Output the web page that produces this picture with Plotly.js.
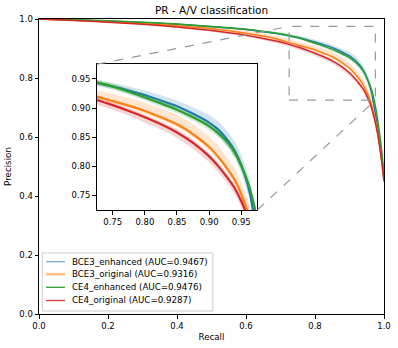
<!DOCTYPE html>
<html>
<head>
<meta charset="utf-8">
<script src="https://cdn.plot.ly/plotly-3.0.1.min.js"></script>
<style>
  html, body { margin: 0; padding: 0; background: #fff; }
  #chart { width: 398px; height: 348px; }
</style>
</head>
<body>
<div id="chart"></div>
<script>
// recall points shared by all curves
const recall = [0, 0.1, 0.2, 0.3, 0.4, 0.5, 0.6, 0.65, 0.7, 0.725, 0.75, 0.775, 0.8, 0.825, 0.85,
  0.875, 0.9, 0.915, 0.93, 0.94, 0.95, 0.96, 0.965, 0.97, 0.975, 0.98, 0.985, 0.99, 0.995, 1.0];

// mean precision per model
const bce3Enhanced = [1.0, 0.997, 0.993, 0.988, 0.982, 0.974, 0.964, 0.957, 0.949, 0.943, 0.937, 0.930, 0.922, 0.913, 0.903,
  0.890, 0.875, 0.862, 0.843, 0.826, 0.802, 0.768, 0.745, 0.712, 0.680, 0.645, 0.610, 0.575, 0.525, 0.455];
const bce3Original = [1.0, 0.996, 0.991, 0.985, 0.977, 0.967, 0.952, 0.942, 0.929, 0.920, 0.912, 0.904, 0.895, 0.884, 0.872,
  0.855, 0.833, 0.815, 0.793, 0.776, 0.752, 0.722, 0.703, 0.680, 0.655, 0.625, 0.590, 0.550, 0.505, 0.450];
const ce4Enhanced = [1.0, 0.998, 0.994, 0.989, 0.983, 0.975, 0.965, 0.958, 0.950, 0.944, 0.937, 0.928, 0.918, 0.908, 0.897,
  0.884, 0.869, 0.856, 0.839, 0.823, 0.801, 0.773, 0.755, 0.733, 0.705, 0.670, 0.630, 0.585, 0.530, 0.455];
const ce4Original = [1.0, 0.995, 0.989, 0.982, 0.973, 0.961, 0.945, 0.934, 0.922, 0.914, 0.905, 0.895, 0.884, 0.872, 0.858,
  0.840, 0.817, 0.799, 0.778, 0.762, 0.740, 0.712, 0.694, 0.672, 0.648, 0.620, 0.585, 0.545, 0.500, 0.450];

// spread of the shaded band above / below each mean curve
const bce3EnhancedUp = [0, .001, .001, .002, .002, .003, .004, .004, .005, .005, .006, .007, .008, .009, .010,
  .011, .013, .014, .015, .016, .017, .018, .018, .018, .018, .017, .016, .015, .012, .010];
const bce3EnhancedDown = [0, .001, .001, .002, .002, .003, .003, .004, .004, .005, .005, .006, .007, .007, .008,
  .009, .010, .011, .012, .012, .013, .014, .014, .014, .014, .013, .012, .011, .010, .008];
const bce3OriginalUp = [0, .002, .003, .004, .005, .006, .008, .009, .010, .011, .012, .013, .014, .015, .016,
  .017, .018, .019, .019, .020, .020, .020, .020, .019, .018, .017, .016, .015, .012, .010];
const bce3OriginalDown = [0, .001, .001, .002, .002, .003, .003, .003, .004, .004, .004, .004, .005, .005, .005,
  .005, .005, .005, .006, .006, .006, .006, .006, .006, .006, .006, .005, .005, .005, .004];
const ce4EnhancedUp = [0, .001, .001, .001, .002, .002, .003, .003, .004, .005, .005, .005, .005, .006, .006,
  .006, .007, .007, .007, .008, .008, .008, .008, .008, .008, .008, .007, .007, .006, .005];
const ce4EnhancedDown = ce4EnhancedUp;
const ce4OriginalUp = [0, .001, .001, .002, .002, .003, .003, .004, .004, .005, .005, .005, .005, .005, .006,
  .006, .006, .006, .006, .006, .006, .006, .006, .006, .006, .006, .006, .005, .005, .004];
const ce4OriginalDown = [0, .001, .002, .002, .003, .004, .005, .006, .007, .008, .008, .008, .009, .009, .009,
  .010, .010, .010, .010, .010, .010, .010, .010, .010, .010, .009, .009, .008, .007, .006];

const names = ['BCE3_enhanced (AUC=0.9467)', 'BCE3_original (AUC=0.9316)',
  'CE4_enhanced (AUC=0.9476)', 'CE4_original (AUC=0.9287)'];

const series = [
  {name: names[0], y: bce3Enhanced, up: bce3EnhancedUp, down: bce3EnhancedDown, color: '31,119,180',
    key: {alpha: 0.6, width: 1.3}},
  {name: names[1], y: bce3Original, up: bce3OriginalUp, down: bce3OriginalDown, color: '255,127,14',
    key: {alpha: 0.5, width: 2.6}},
  {name: names[2], y: ce4Enhanced, up: ce4EnhancedUp, down: ce4EnhancedDown, color: '44,160,44',
    key: {alpha: 1, width: 1.3}},
  {name: names[3], y: ce4Original, up: ce4OriginalUp, down: ce4OriginalDown, color: '214,39,40',
    key: {alpha: 0.9, width: 1.3}}
];

// inset position (paper coords) and zoomed window
const insetX = [0.167, 0.633];
const insetY = [0.3525, 0.8465];
const zoomRange = [0.725, 0.975];

let traces = [];
[['x', 'y', 1.5], ['x2', 'y2', 2.2]].forEach(([xa, ya, w]) => {
  series.forEach(s => {
    let hi = s.y.map((v, i) => v + s.up[i]);
    let lo = s.y.map((v, i) => v - s.down[i]);
    traces.push({
      x: recall.concat(recall.slice().reverse()),
      y: hi.concat(lo.slice().reverse()),
      xaxis: xa, yaxis: ya,
      type: 'scatter', mode: 'lines',
      fill: 'toself',
      fillcolor: 'rgba(' + s.color + ',0.2)',
      line: {width: 0, shape: 'spline', smoothing: 0.5},
      hoverinfo: 'skip',
      showlegend: false
    });
    traces.push({
      x: recall, y: s.y,
      xaxis: xa, yaxis: ya,
      type: 'scatter', mode: 'lines',
      name: s.name,
      line: {color: 'rgb(' + s.color + ')', width: w, shape: 'spline', smoothing: 0.5},
      showlegend: false
    });
  });
});

const tickFont = {family: 'DejaVu Sans', size: 8.5, color: '#000'};
const axisBase = {
  showline: true, linecolor: '#000', linewidth: 1, mirror: true,
  ticks: 'outside', ticklen: 3.5, tickwidth: 1, tickcolor: '#000',
  showgrid: false, zeroline: false, tickfont: tickFont, fixedrange: true
};

const dashed = {color: '#999', width: 1.2, dash: 'dash'};
let shapes = [
  {type: 'rect', xref: 'x', yref: 'y', x0: zoomRange[0], x1: zoomRange[1], y0: zoomRange[0], y1: zoomRange[1], line: dashed},
  {type: 'line', xref: 'paper', yref: 'paper', x0: insetX[0], y0: insetY[1], x1: zoomRange[0], y1: zoomRange[1], line: dashed},
  {type: 'line', xref: 'paper', yref: 'paper', x0: insetX[1], y0: insetY[0], x1: zoomRange[1], y1: zoomRange[0], line: dashed}
];
let annotations = [];

// compact matplotlib-like legend box (plotly's own legend rows are too tall here)
const legendBox = {x0: 0.0095, x1: 0.504, y0: 0.0102, y1: 0.2068};
const legendRows = [0.1773, 0.1349, 0.0905, 0.0458];
shapes.push({type: 'rect', xref: 'paper', yref: 'paper',
  x0: legendBox.x0, x1: legendBox.x1, y0: legendBox.y0, y1: legendBox.y1,
  fillcolor: 'rgba(255,255,255,0.8)', line: {color: '#ccc', width: 1}});
series.forEach((s, i) => {
  shapes.push({type: 'line', xref: 'paper', yref: 'paper',
    x0: 0.0203, x1: 0.0754, y0: legendRows[i], y1: legendRows[i],
    line: {color: 'rgba(' + s.color + ',' + s.key.alpha + ')', width: s.key.width}});
  annotations.push({xref: 'paper', yref: 'paper', x: 0.091, y: legendRows[i],
    xanchor: 'left', yanchor: 'middle', showarrow: false, text: s.name,
    font: {family: 'DejaVu Sans', size: 8.7, color: '#000'}});
});

let layout = {
  width: 398, height: 348,
  margin: {l: 39, r: 14, t: 19, b: 34},
  paper_bgcolor: '#fff', plot_bgcolor: 'rgba(0,0,0,0)',
  font: {family: 'DejaVu Sans', color: '#000'},
  title: {
    text: 'PR - A/V classification',
    font: {family: 'DejaVu Sans', size: 10.5, color: '#000'},
    xref: 'paper', x: 0.5, xanchor: 'center',
    yref: 'container', y: 0.971, yanchor: 'middle'
  },
  xaxis: Object.assign({}, axisBase, {
    domain: [0, 1], range: [0, 1], dtick: 0.2, tickformat: '.1f',
    title: {text: 'Recall', font: {family: 'DejaVu Sans', size: 8.7}, standoff: 4}
  }),
  yaxis: Object.assign({}, axisBase, {
    domain: [0, 1], range: [0, 1], dtick: 0.2, tickformat: '.1f',
    title: {text: 'Precision', font: {family: 'DejaVu Sans', size: 8.7}, standoff: 6}
  }),
  xaxis2: Object.assign({}, axisBase, {
    anchor: 'y2', domain: insetX, range: zoomRange,
    tick0: 0.75, dtick: 0.05, tickformat: '.2f'
  }),
  yaxis2: Object.assign({}, axisBase, {
    anchor: 'x2', domain: insetY, range: zoomRange,
    tick0: 0.75, dtick: 0.05, tickformat: '.2f'
  }),
  shapes: shapes,
  annotations: annotations,
  showlegend: false
};

Plotly.newPlot('chart', traces, layout, {displayModeBar: false, staticPlot: true});
</script>
</body>
</html>
